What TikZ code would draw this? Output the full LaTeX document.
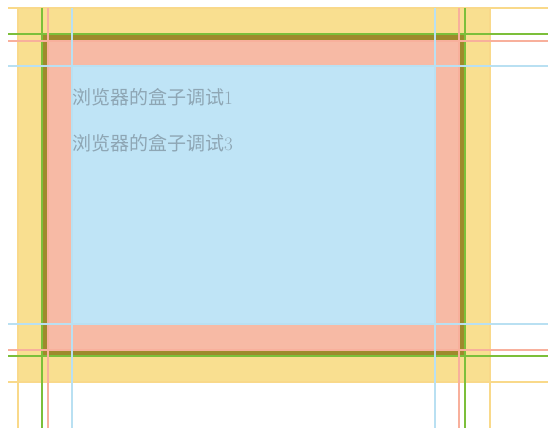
\documentclass[tikz,border=0pt]{standalone}
\usepackage{fontspec}
\usepackage{xcolor}
\newfontfamily\cjk{Noto Sans CJK SC}
\definecolor{marginFill}{HTML}{F9DF90}
\definecolor{borderFill}{HTML}{9E8A2C}
\definecolor{paddingFill}{HTML}{F7BAA5}
\definecolor{contentFill}{HTML}{BFE4F6}
\definecolor{marginLine}{HTML}{F9D98A}
\definecolor{borderLine}{HTML}{7CBF3A}
\definecolor{paddingLine}{HTML}{F8B09C}
\definecolor{contentLine}{HTML}{B9E0F2}
\definecolor{boxText}{HTML}{8EA6B4}

\begin{document}
\begin{tikzpicture}[
  x=1pt, y=-1pt,
  guide/.style={line width=1.5pt},
  box text/.style={
    anchor=west,
    inner sep=0pt,
    text=boxText,
    font=\fontsize{19}{19}\selectfont
  }
]
\useasboundingbox (0,0) rectangle (548,428);
% box model areas
\fill[marginFill] (18,8) rectangle (490,382);
\fill[borderFill] (42,34) rectangle (465,356);
\fill[paddingFill] (48,41) rectangle (459,350);
\fill[contentFill] (72,66) rectangle (435,324);
% guide lines
\foreach \c/\l/\t/\r/\b in {marginLine/18/8/490/382,
                            borderLine/42/34/465/356,
                            paddingLine/48/41/459/350,
                            contentLine/72/66/435/324} {
  \draw[guide,\c] (\l,8) -- (\l,428) (\r,8) -- (\r,428);
  \draw[guide,\c] (8,\t) -- (548,\t) (8,\b) -- (548,\b);
}
\node[box text] (line1) at (72,97) {{\cjk 浏览器的盒子调试}1};
\node[box text] (line3) at (72,143.5) {{\cjk 浏览器的盒子调试}3};
\end{tikzpicture}
\end{document}
